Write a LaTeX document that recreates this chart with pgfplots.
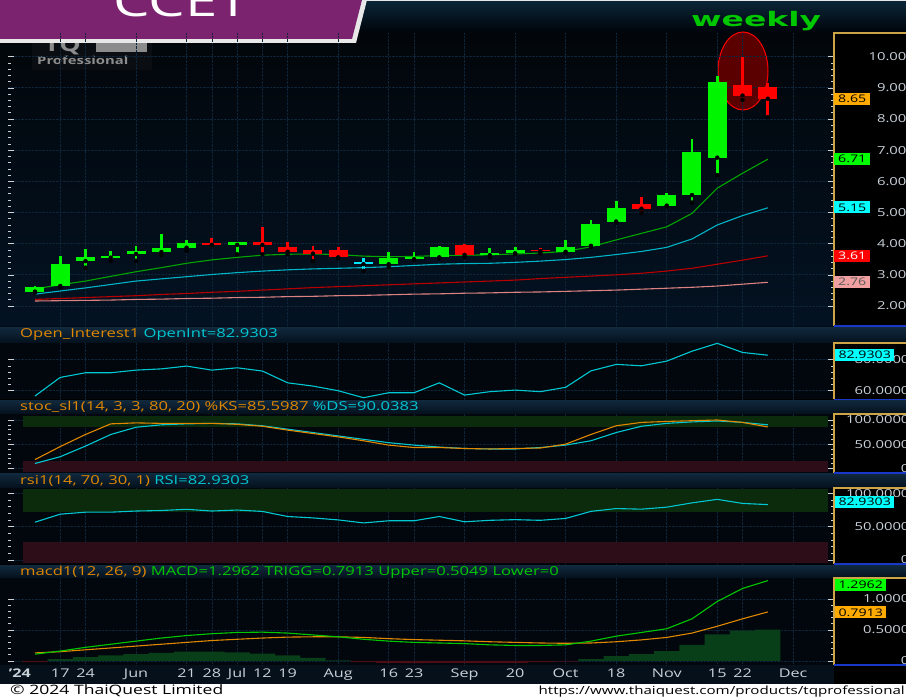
\documentclass[border=0pt]{standalone}
\usepackage{fontspec}
\setmainfont{Open Sans}[FakeStretch=1.35]
\newfontfamily\wfont{DejaVu Sans}[FakeStretch=1.65]
\usepackage{pgfplots}
\pgfplotsset{compat=1.18}
\usepackage{pgfplotstable}

\definecolor{cgreen}{RGB}{0,245,0}
\definecolor{cred}{RGB}{255,0,0}
\definecolor{ccyan}{RGB}{0,230,255}
\definecolor{magreen}{RGB}{0,165,0}
\definecolor{macyan}{RGB}{0,180,200}
\definecolor{mared}{RGB}{185,0,0}
\definecolor{mapink}{RGB}{220,130,130}
\definecolor{gridc}{RGB}{14,36,56}
\definecolor{tickc}{RGB}{205,210,215}
\definecolor{lblc}{RGB}{200,208,216}
\definecolor{goldc}{RGB}{205,165,70}
\definecolor{bluec}{RGB}{25,55,200}
\definecolor{orangec}{RGB}{225,135,0}
\definecolor{cyant}{RGB}{0,200,210}
\definecolor{greent}{RGB}{0,200,0}
\definecolor{bannerc}{RGB}{123,35,110}
\definecolor{histg}{RGB}{8,62,24}
\definecolor{histr}{RGB}{75,14,22}
\definecolor{bandg}{RGB}{12,42,12}
\definecolor{bandr}{RGB}{45,14,24}
\definecolor{titletop}{RGB}{16,40,60}
\definecolor{titlebot}{RGB}{4,16,28}
\definecolor{hdrtop}{RGB}{10,38,56}
\definecolor{hdrbot}{RGB}{0,4,10}
\definecolor{maintop}{RGB}{2,6,10}
\definecolor{mainbot}{RGB}{3,18,34}
\definecolor{subbg}{RGB}{1,7,13}
\definecolor{sepc}{RGB}{0,10,18}
\definecolor{xband}{RGB}{6,16,26}
\definecolor{ellfill}{RGB}{90,0,0}
\definecolor{boxorange}{RGB}{255,170,0}
\definecolor{boxgreen}{RGB}{0,255,0}
\definecolor{boxcyan}{RGB}{0,255,255}
\definecolor{boxpink}{RGB}{240,160,160}
\definecolor{logog}{RGB}{140,140,140}
\definecolor{logobg}{RGB}{10,14,18}

% candles: index open high low close
\pgfplotstableread{
i o h l c
0 2.46 2.63 2.43 2.60
1 2.64 3.60 2.60 3.35
2 3.44 3.82 3.23 3.58
3 3.55 3.75 3.45 3.61
4 3.67 3.93 3.45 3.76
5 3.73 4.30 3.64 3.85
6 3.87 4.12 3.77 4.02
8 3.96 4.06 3.66 4.06
14 3.34 3.74 3.26 3.53
15 3.50 3.74 3.48 3.56
16 3.56 3.93 3.53 3.88
18 3.63 3.85 3.56 3.69
19 3.69 3.89 3.67 3.79
21 3.74 4.12 3.71 3.89
22 3.93 4.76 3.90 4.63
23 4.71 5.37 4.67 5.15
25 5.22 5.62 5.20 5.56
26 5.56 7.36 5.32 6.94
27 6.76 9.39 6.20 9.20
}\greenC
\pgfplotstableread{
i o h l c
7 4.01 4.17 3.95 3.96
9 4.06 4.55 3.66 3.96
10 3.90 4.06 3.66 3.74
11 3.80 3.93 3.44 3.68
12 3.80 3.88 3.53 3.56
17 3.96 3.99 3.58 3.64
20 3.81 3.87 3.69 3.76
24 5.26 5.51 4.98 5.12
28 9.09 10.00 8.61 8.75
29 9.04 9.15 8.06 8.65
}\redC
\pgfplotstableread{
i o h l c
13 3.40 3.55 3.13 3.34
}\dojiC
% moving averages
\pgfplotstableread{
i g cy r p
0 2.55 2.38 2.21 2.16
1 2.68 2.48 2.24 2.17
2 2.80 2.58 2.27 2.18
3 2.95 2.69 2.30 2.19
4 3.10 2.80 2.33 2.21
5 3.23 2.87 2.37 2.22
6 3.37 2.94 2.40 2.24
7 3.48 3.01 2.44 2.25
8 3.56 3.07 2.47 2.27
9 3.63 3.12 2.51 2.28
10 3.66 3.16 2.55 2.30
11 3.67 3.19 2.59 2.31
12 3.65 3.21 2.62 2.33
13 3.60 3.23 2.65 2.34
14 3.58 3.26 2.68 2.36
15 3.59 3.30 2.71 2.38
16 3.62 3.34 2.74 2.39
17 3.63 3.36 2.77 2.41
18 3.64 3.37 2.80 2.42
19 3.67 3.40 2.83 2.44
20 3.70 3.44 2.88 2.45
21 3.75 3.49 2.92 2.47
22 3.90 3.56 2.96 2.49
23 4.12 3.65 3.00 2.51
24 4.33 3.75 3.05 2.54
25 4.54 3.88 3.12 2.57
26 4.97 4.15 3.21 2.60
27 5.78 4.60 3.34 2.64
28 6.26 4.90 3.47 2.70
29 6.71 5.15 3.61 2.76
}\maT
% open interest
\pgfplotstableread{
i v
0 56.6
1 68.6
2 71.6
3 71.6
4 73.3
5 74.1
6 75.9
7 73.3
8 74.8
9 72.7
10 65.1
11 63.0
12 60.0
13 55.5
14 58.7
15 58.7
16 65.1
17 57.2
18 59.4
19 60.4
20 59.4
21 62.2
22 72.8
23 77.0
24 76.1
25 79.1
26 85.5
27 90.6
28 84.7
29 82.93
}\oiT
% rsi
\pgfplotstableread{
i v
0 56.6
1 68.6
2 71.6
3 71.6
4 73.3
5 74.1
6 75.9
7 73.3
8 74.8
9 72.7
10 65.1
11 63.0
12 60.0
13 55.5
14 58.7
15 58.7
16 65.1
17 57.2
18 59.4
19 60.4
20 59.4
21 62.2
22 72.8
23 77.0
24 76.1
25 79.1
26 85.5
27 90.8
28 84.7
29 82.93
}\rsiT
% stochastic %K and %D
\pgfplotstableread{
i k d
0 18 10
1 45 24
2 70 46
3 92 70
4 94 85
5 93 90
6 93 92
7 93 93
8 91 92
9 87 88
10 79 81
11 72 74
12 65 67
13 57 60
14 48 53
15 43 48
16 43 44
17 41 41
18 40 40
19 41 40
20 42 43
21 50 48
22 70 57
23 88 74
24 95 87
25 97 93
26 98.5 96
27 100 98
28 95 95
29 85.6 90.04
}\stT
% macd, trigger, histogram
\pgfplotstableread{
i m t h
0 0.11 0.13 -0.02
1 0.16 0.15 0.03
2 0.22 0.18 0.06
3 0.27 0.21 0.09
4 0.32 0.24 0.11
5 0.37 0.27 0.13
6 0.41 0.30 0.15
7 0.44 0.33 0.15
8 0.46 0.35 0.14
9 0.465 0.37 0.12
10 0.45 0.385 0.09
11 0.42 0.39 0.05
12 0.39 0.39 0.01
13 0.35 0.38 -0.02
14 0.32 0.36 -0.03
15 0.30 0.345 -0.035
16 0.29 0.335 -0.03
17 0.28 0.325 -0.03
18 0.26 0.31 -0.03
19 0.25 0.30 -0.03
20 0.25 0.29 -0.02
21 0.26 0.285 -0.01
22 0.32 0.29 0.03
23 0.40 0.31 0.08
24 0.46 0.34 0.11
25 0.52 0.38 0.16
26 0.68 0.45 0.26
27 0.96 0.56 0.43
28 1.17 0.68 0.49
29 1.2962 0.7913 0.5049
}\macdT

\pgfplotsset{
  panel/.style={
    at={(8pt,#1)}, anchor=south west, scale only axis, width=826pt,
    xmin=-1.068, xmax=31.62,
    axis line style={draw=none},
    xtick={1,2,4,6,7,8,9,10,12,14,15,17,19,21,23,25,27,28,30},
    xticklabels={},
    xtick style={draw=none},
    xmajorgrids, ymajorgrids,
    major grid style={densely dotted, gridc, line width=0.7pt},
    ytick pos=both, yticklabel pos=right, tick align=inside,
    ytick style={tickc, line width=0.6pt},
    major tick length=6pt, minor tick length=3pt,
    minor y tick num=4,
    yticklabel style={overlay, anchor=east, xshift=79pt, text=lblc, font=\fontsize{11}{11}\selectfont},
    clip=false,
  },
  wick/.style={only marks, mark=none, forget plot, error bars/.cd, y dir=plus, y explicit, error mark=none,
    error bar style={draw=#1, line width=2.8pt}},
  body/.style={only marks, mark=none, forget plot, error bars/.cd, y dir=plus, y explicit, error mark=none,
    error bar style={draw=#1, line width=19pt}},
}

\begin{document}
\begin{tikzpicture}
\path[use as bounding box] (0,0) rectangle (906pt,698pt);
\begin{scope}
\clip (0,0) rectangle (906pt,698pt);
% backgrounds
\fill[black] (0,0) rectangle (906pt,698pt);
\shade[top color=hdrtop, bottom color=hdrbot] (0,665pt) rectangle (906pt,698pt);
\shade[top color=maintop, bottom color=mainbot] (0,372pt) rectangle (834pt,665pt);
\fill[black] (834pt,372pt) rectangle (906pt,665pt);
\fill[sepc] (0,370pt) rectangle (906pt,372pt);
\shade[top color=titletop, bottom color=titlebot] (0,355pt) rectangle (906pt,370pt);
\shade[top color=titletop, bottom color=titlebot] (0,284pt) rectangle (906pt,297.5pt);
\shade[top color=titletop, bottom color=titlebot] (0,210pt) rectangle (906pt,224pt);
\shade[top color=titletop, bottom color=titlebot] (0,120pt) rectangle (906pt,132pt);
\fill[subbg] (0,298.5pt) rectangle (834pt,355pt);
\fill[subbg] (0,225pt) rectangle (834pt,284pt);
\fill[subbg] (0,134pt) rectangle (834pt,210pt);
\fill[subbg] (0,33pt) rectangle (834pt,120pt);
\fill[xband] (0,14pt) rectangle (834pt,33pt);
\fill[white] (0,0) rectangle (906pt,14pt);

% logo
\fill[logobg] (32pt,628pt) rectangle (152pt,664pt);
\node[anchor=base west, inner sep=0, text=logog, font=\fontsize{20}{20}\selectfont\bfseries] at (44pt,646pt) {TQ};
\fill[logog] (96pt,646pt) rectangle (147pt,660pt);
\node[anchor=base west, inner sep=0, text=logog, font=\fontsize{11}{11}\selectfont\bfseries] at (37pt,633pt) {Professional};

% banner
\fill[white!82!gray] (0,698pt) -- (367pt,698pt) -- (356pt,655pt) -- (0,655pt) -- cycle;
\fill[bannerc] (0,698pt) -- (362pt,698pt) -- (352pt,659pt) -- (0,659pt) -- cycle;
\node[overlay, anchor=base west, inner sep=0, text=white, font=\fontsize{43}{43}\selectfont] at (113pt,681pt) {CCET};
\draw[white!80!gray, line width=1.2pt] (362pt,697.3pt) -- (906pt,697.3pt);
\node[anchor=base west, inner sep=0, text=greent, font=\fontsize{20}{20}\selectfont\wfont\bfseries] at (691pt,671pt) {weekly};

% highlight ellipse
\draw[red, line width=1pt, fill=ellfill] (743pt,627pt) ellipse [x radius=25pt, y radius=39pt];

% ---------------- main price panel
\begin{axis}[panel=372pt, height=293pt, ymin=1.358, ymax=10.76,
  ytick={2,3,4,5,6,7,8,9,10},
  yticklabels={2.00,3.00,4.00,5.00,6.00,7.00,8.00,9.00,10.00},
  yticklabel style={xshift=-3pt}]
\addplot[mapink, line width=1.1pt] table[x=i,y=p]{\maT};
\addplot[mared, line width=1.1pt] table[x=i,y=r]{\maT};
\addplot[macyan, line width=1.1pt] table[x=i,y=cy]{\maT};
\addplot[magreen, line width=1.1pt] table[x=i,y=g]{\maT};
\addplot[wick=cgreen] table[x=i, y=l, y error plus expr={\thisrow{h}-\thisrow{l}}]{\greenC};
\addplot[body=cgreen] table[x=i, y expr={min(\thisrow{o},\thisrow{c})}, y error plus expr={abs(\thisrow{c}-\thisrow{o})}]{\greenC};
\addplot[wick=cred] table[x=i, y=l, y error plus expr={\thisrow{h}-\thisrow{l}}]{\redC};
\addplot[body=cred] table[x=i, y expr={min(\thisrow{o},\thisrow{c})}, y error plus expr={abs(\thisrow{c}-\thisrow{o})}]{\redC};
\addplot[wick=ccyan] table[x=i, y=l, y error plus expr={\thisrow{h}-\thisrow{l}}]{\dojiC};
\addplot[body=ccyan] table[x=i, y expr={min(\thisrow{o},\thisrow{c})}, y error plus expr={abs(\thisrow{c}-\thisrow{o})}]{\dojiC};
\end{axis}

% ---------------- open interest
\begin{axis}[panel=298.5pt, height=56.5pt, ymin=54.35, ymax=90.8,
  ytick={60,80}, yticklabels={60.0000,80.0000}]
\addplot[cyant, line width=1.1pt] table[x=i,y=v]{\oiT};
\end{axis}

% ---------------- stochastic
\begin{axis}[panel=225pt, height=59pt, ymin=-9.7, ymax=112.4,
  ytick={0,50,100}, yticklabels={0,50.0000,100.0000}]
\fill[bandg] (axis cs:-0.475,85.5) rectangle (axis cs:31.38,108.2);
\fill[bandr] (axis cs:-0.475,-7.7) rectangle (axis cs:31.38,15.1);
\addplot[cyant, line width=1.1pt] table[x=i,y=d]{\stT};
\addplot[orangec, line width=1.1pt] table[x=i,y=k]{\stT};
\end{axis}

% ---------------- rsi
\begin{axis}[panel=134pt, height=76pt, ymin=-6, ymax=107.8,
  ytick={0,50,100}, yticklabels={0,50.0000,100.0000}]
\fill[bandg] (axis cs:-0.475,71.9) rectangle (axis cs:31.38,106.3);
\fill[bandr] (axis cs:-0.475,-5.2) rectangle (axis cs:31.38,26.9);
\addplot[cyant, line width=1.1pt] table[x=i,y=v]{\rsiT};
\end{axis}

% ---------------- macd
\begin{axis}[panel=33pt, height=87pt, ymin=-0.065, ymax=1.339,
  ytick={0,0.5,1}, yticklabels={0,0.5000,1.0000},
  xticklabels={17,24,Jun,21,28,Jul,12,19,Aug,16,23,Sep,20,Oct,18,Nov,15,22,Dec},
  xticklabel style={text=lblc, font=\fontsize{12}{12}\selectfont},
  extra x ticks={-0.6}, extra x tick labels={\textbf{'24}},
  extra x tick style={grid=none}]
\addplot[ybar, bar width=25.27pt, bar shift=0pt, fill=histg, draw=none, restrict y to domain=0:5] table[x=i,y=h]{\macdT};
\addplot[ybar, bar width=25.27pt, bar shift=0pt, fill=histr, draw=none, restrict y to domain=-5:0] table[x=i,y=h]{\macdT};
\addplot[orangec, line width=1.1pt] table[x=i,y=t]{\macdT};
\addplot[greent, line width=1.1pt] table[x=i,y=m]{\macdT};
\end{axis}

% right scale frames
\draw[goldc, line width=1.3pt] (834pt,372pt) -- (834pt,665pt) -- (906pt,665pt);
\draw[bluec, line width=1.5pt] (834pt,372pt) -- (906pt,372pt);
\draw[goldc, line width=1.3pt] (834pt,298.5pt) -- (834pt,355pt) -- (906pt,355pt);
\draw[bluec, line width=1.5pt] (834pt,298.5pt) -- (906pt,298.5pt);
\draw[goldc, line width=1.3pt] (834pt,225pt) -- (834pt,284pt) -- (906pt,284pt);
\draw[bluec, line width=1.5pt] (834pt,225pt) -- (906pt,225pt);
\draw[goldc, line width=1.3pt] (834pt,134pt) -- (834pt,210pt) -- (906pt,210pt);
\draw[bluec, line width=1.5pt] (834pt,134pt) -- (906pt,134pt);
\draw[goldc, line width=1.3pt] (834pt,33pt) -- (834pt,120pt) -- (906pt,120pt);
\draw[bluec, line width=1.5pt] (834pt,33pt) -- (906pt,33pt);

% value boxes
\tikzset{vbox/.style={anchor=west, inner sep=1pt, minimum height=12pt, font=\fontsize{10.5}{10.5}\selectfont}}
\node[vbox, fill=boxorange, text=black, minimum width=36pt] at (834pt,599pt) {8.65};
\node[vbox, fill=boxgreen, text=black, minimum width=36pt] at (834pt,539pt) {6.71};
\node[vbox, fill=boxcyan, text=black, minimum width=36pt] at (834pt,490.5pt) {5.15};
\node[vbox, fill=cred, text=white, minimum width=36pt] at (834pt,442.3pt) {3.61};
\node[vbox, fill=boxpink, text=black!65, minimum width=36pt] at (834pt,416.3pt) {2.76};
\node[vbox, fill=boxcyan, text=black, minimum width=59pt] at (835pt,343pt) {82.9303};
\node[vbox, fill=boxcyan, text=black, minimum width=59pt] at (835pt,196pt) {82.9303};
\node[vbox, fill=boxgreen, text=black, minimum width=51pt] at (835pt,113pt) {1.2962};
\node[vbox, fill=boxorange, text=black, minimum width=51pt] at (835pt,85.5pt) {0.7913};

% panel titles
\tikzset{ptitle/.style={anchor=west, inner sep=0, font=\fontsize{12.3}{12.3}\selectfont}}
\node[ptitle] at (20pt,363pt) {\textcolor{orangec}{Open\_Interest1} \textcolor{cyant}{OpenInt=82.9303}};
\node[ptitle] at (20pt,291pt) {\textcolor{orangec}{stoc\_sl1(14, 3, 3, 80, 20) \%KS=85.5987} \textcolor{cyant}{\%DS=90.0383}};
\node[ptitle] at (20pt,217pt) {\textcolor{orangec}{rsi1(14, 70, 30, 1)} \textcolor{cyant}{RSI=82.9303}};
\node[ptitle] at (20pt,126pt) {\textcolor{orangec}{macd1(12, 26, 9)} \textcolor{greent}{MACD=1.2962 TRIGG=0.7913 Upper=0.5049 Lower=0}};

% footer
\node[anchor=base west, inner sep=0, font=\fontsize{13}{13}\selectfont] at (10pt,3.5pt) {\textcopyright{} 2024 ThaiQuest Limited};
\node[anchor=base east, inner sep=0, font=\fontsize{11.2}{11.2}\selectfont] at (905pt,3.5pt) {https://www.thaiquest.com/products/tqprofessional};
\end{scope}
\end{tikzpicture}
\end{document}
